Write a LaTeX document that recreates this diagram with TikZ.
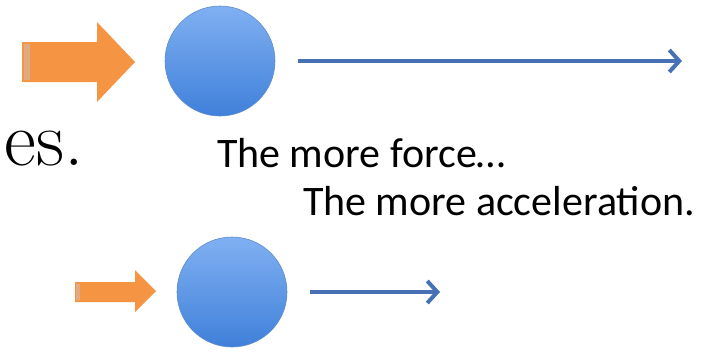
\documentclass[tikz,border=0pt]{standalone}
\usepackage{fontspec}
\newfontfamily\labelfont{Carlito}
\usepackage{xcolor}
\usepackage{tikz}
\usetikzlibrary{arrows.meta, positioning}

\begin{document}
\begin{tikzpicture}[x=1pt, y=-1pt, every node/.style={inner sep=0pt, outer sep=0pt}]
  % Define colors
  \definecolor{colPush}{RGB}{245,148,66}    % force arrow - orange
  \definecolor{colPushL}{RGB}{225,170,130}  % force arrow tail edge
  \definecolor{colBallT}{RGB}{128,176,242}  % ball top - light blue
  \definecolor{colBallB}{RGB}{64,128,218}   % ball bottom - blue
  \definecolor{colEdge}{RGB}{96,140,205}    % ball rim
  \definecolor{colMove}{RGB}{72,112,180}    % motion arrow - steel blue

  \tikzset{
    ball/.style={circle, minimum size=110pt, top color=colBallT, bottom color=colBallB, draw=colEdge, line width=0.6pt},
    motion/.style={draw=colMove, line width=4pt, -{Straight Barb[length=10pt, width=22pt]}, shorten <=23pt},
    caption/.style={font=\labelfont\fontsize{42}{48}\selectfont, anchor=base west}
  }

  % Canvas
  \useasboundingbox (0,0) rectangle (709,354);
  \clip (0,0) rectangle (709,354);

  % Left-over word of the slide
  \node[font=\fontsize{78}{80}\selectfont, anchor=base west] (word) at (5,165) {es.};

  % Strong push (top)
  \fill[colPush] (22,42) -- (97,42) -- (97,22) -- (135,62) -- (97,102) -- (97,82) -- (22,82) -- cycle;
  \fill[colPushL] (24,44) rectangle (30,80);
  \node[ball] (ballA) at (220,61) {};
  \coordinate (endA) at (682,61);
  \draw[motion] (ballA.east) -- (endA);

  % Captions
  \node[caption] (capA) at (217,167) {The more force…};
  \node[caption] (capB) at (303,215) {The more acceleration.};

  % Weak push (bottom)
  \fill[colPush] (75,282) -- (135,282) -- (135,270) -- (156,291) -- (135,312) -- (135,302) -- (75,302) -- cycle;
  \fill[colPushL] (76,284) rectangle (80,300);
  \node[ball] (ballB) at (232,292) {};
  \coordinate (endB) at (440,292);
  \draw[motion] (ballB.east) -- (endB);
\end{tikzpicture}
\end{document}
